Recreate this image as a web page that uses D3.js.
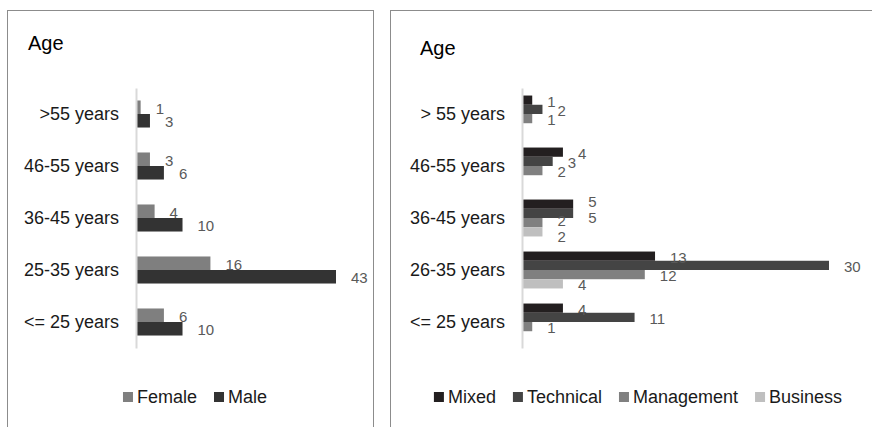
<!DOCTYPE html>
<html lang="en">
<head>
  <meta charset="utf-8">
  <title>Age by gender and background</title>
  <script type="text/javascript" src="https://cdn.jsdelivr.net/npm/d3@7"></script>
  <style>
    body { margin: 0; background: #fff; }
    text { font-family: "Liberation Sans", Arial, sans-serif; }
  </style>
</head>
<body>
<script>
  // left chart: gender
  const ageLeft = [">55 years", "46-55 years", "36-45 years", "25-35 years", "<= 25 years"];
  const female = [1, 3, 4, 16, 6];
  const male = [3, 6, 10, 43, 10];

  // right chart: background
  const ageRight = ["> 55 years", "46-55 years", "36-45 years", "26-35 years", "<= 25 years"];
  const mixed = [1, 4, 5, 13, 4];
  const technical = [2, 3, 5, 30, 11];
  const management = [1, 2, 2, 12, 1];
  const business = [0, 0, 2, 4, 0];

  let svg = d3.select("body").append("svg")
    .attr("width", 872)
    .attr("height", 427);

  // panel frames
  svg.append("rect").attr("x", 7.5).attr("y", 10.5).attr("width", 366).attr("height", 430)
    .attr("fill", "none").attr("stroke", "#8c8c8c");
  svg.append("rect").attr("x", 390.5).attr("y", 10.5).attr("width", 500).attr("height", 430)
    .attr("fill", "none").attr("stroke", "#8c8c8c");

  function drawPanel(opt) {
    let g = svg.append("g");

    g.append("text")
      .attr("x", opt.titleX).attr("y", opt.titleY)
      .attr("font-size", 20).attr("fill", "#000")
      .text("Age");

    let y = d3.scaleBand()
      .domain(opt.cats)
      .range([88, 348])
      .paddingInner(opt.pad)
      .paddingOuter(opt.pad / 2);

    let x = d3.scaleLinear()
      .domain([0, opt.max])
      .range([opt.x0, opt.x1]);

    let names = opt.series.map(s => s.name);
    let ySub = d3.scaleBand()
      .domain(names)
      .range([0, y.bandwidth()]);

    // bars
    opt.series.forEach(function(s) {
      g.selectAll(null)
        .data(s.values.map((v, i) => ({ v: v, c: opt.cats[i] })).filter(d => d.v > 0))
        .enter()
        .append("rect")
        .attr("x", x(0))
        .attr("y", d => y(d.c) + ySub(s.name))
        .attr("width", d => x(d.v) - x(0))
        .attr("height", ySub.bandwidth())
        .attr("fill", s.color);
    });

    // axis with category labels
    let axis = d3.axisLeft(y).tickSize(0).tickPadding(17);
    let ag = g.append("g")
      .attr("transform", "translate(" + x(0) + ",0)")
      .call(axis);
    ag.select(".domain").attr("stroke", "#d9d9d9").attr("stroke-width", 2);
    ag.selectAll("text")
      .attr("font-size", 18)
      .attr("fill", "#1a1a1a")
      .attr("font-family", "Liberation Sans, Arial, sans-serif");

    // data labels; labels that collide inside a group are spread apart
    opt.cats.forEach(function(c, i) {
      let placed = [];
      opt.series.forEach(function(s) {
        let v = s.values[i];
        if (v <= 0) return;
        let t = g.append("text")
          .attr("x", x(v) + 15)
          .attr("font-size", 15)
          .attr("fill", "#595959")
          .attr("dominant-baseline", "central")
          .text(v);
        let w = t.node().getComputedTextLength();
        placed.push({ t: t, x: x(v) + 15, w: w,
          y: y(c) + ySub(s.name) + ySub.bandwidth() / 2 + 1 });
      });
      for (let k = 1; k < placed.length; k++) {
        let p = placed[k - 1], q = placed[k];
        let overlapX = q.x < p.x + p.w && p.x < q.x + q.w;
        let gap = q.y - p.y;
        if (overlapX && gap < 16) {
          p.y -= (16 - gap) / 2;
          q.y += (16 - gap) / 2;
        }
      }
      placed.forEach(p => p.t.attr("y", p.y));
    });

    // legend
    let lg = g.append("g");
    let cx = 0;
    opt.series.forEach(function(s, i) {
      lg.append("rect")
        .attr("x", cx).attr("y", 392)
        .attr("width", 10).attr("height", 10)
        .attr("fill", s.color);
      let t = lg.append("text")
        .attr("x", cx + 14).attr("y", 397)
        .attr("font-size", 18)
        .attr("fill", "#1a1a1a")
        .attr("dominant-baseline", "central")
        .text(s.name);
      cx += 14 + t.node().getComputedTextLength() + 17;
    });
    let total = cx - 17;
    lg.attr("transform", "translate(" + (opt.legendCenter - total / 2) + ",0)");
  }

  drawPanel({
    cats: ageLeft,
    titleX: 28, titleY: 50,
    pad: 0.48,
    max: 43,
    x0: 136, x1: 336,
    legendCenter: 195,
    series: [
      { name: "Female", values: female, color: "#7f7f7f" },
      { name: "Male", values: male, color: "#333333" }
    ]
  });

  drawPanel({
    cats: ageRight,
    titleX: 420, titleY: 55,
    pad: 0.29,
    max: 30,
    x0: 522, x1: 829,
    legendCenter: 638,
    series: [
      { name: "Mixed", values: mixed, color: "#231f20" },
      { name: "Technical", values: technical, color: "#444444" },
      { name: "Management", values: management, color: "#808080" },
      { name: "Business", values: business, color: "#bfbfbf" }
    ]
  });
</script>
</body>
</html>
